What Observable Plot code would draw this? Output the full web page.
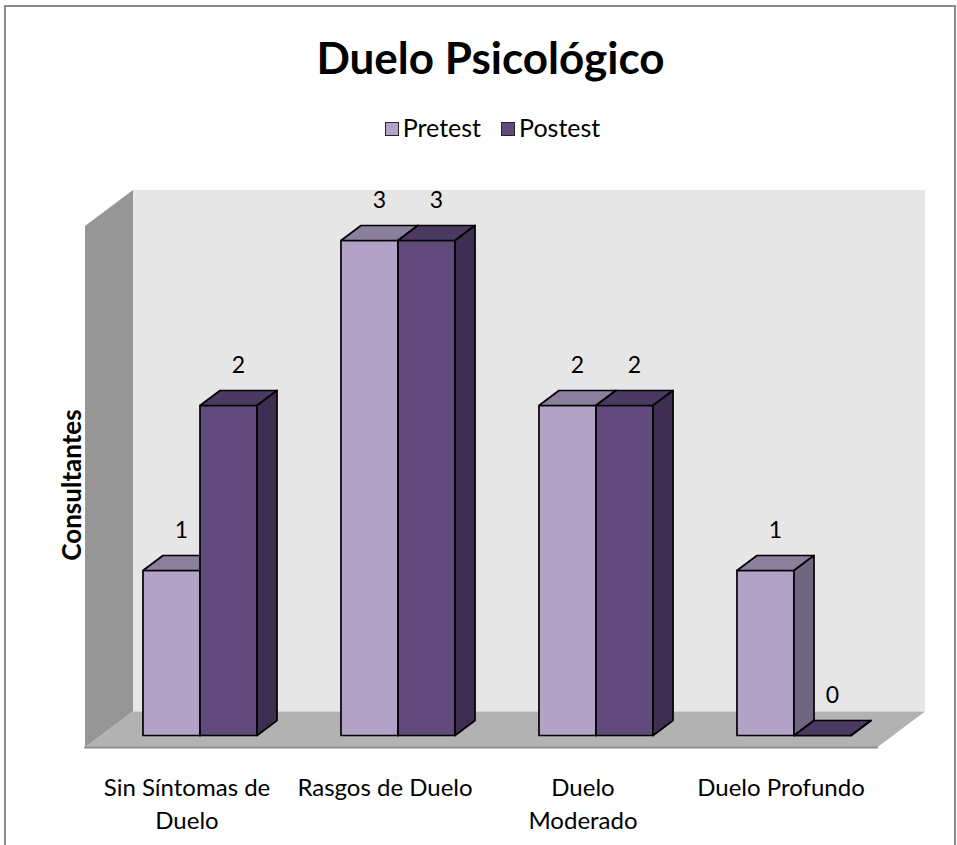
<!DOCTYPE html>
<html>
<head>
<meta charset="utf-8">
<script src="https://cdn.jsdelivr.net/npm/d3@7"></script>
<script src="https://cdn.jsdelivr.net/npm/@observablehq/plot@0.6"></script>
<style>
  html, body { margin: 0; padding: 0; background: #fff; }
  body { width: 957px; height: 845px; position: relative; overflow: hidden; font-family: Lato, "Open Sans", sans-serif; }
  #frame { position: absolute; left: 4px; top: 5px; width: 948px; height: 900px; border: 2px solid #8c8c8c; }
  #title { position: absolute; left: 0; top: 31px; width: 981px; text-align: center; font-weight: bold; font-size: 44px; line-height: 1.2; color: #000; }
  #legend { position: absolute; left: 0; top: 112px; width: 985px; display: flex; justify-content: center; align-items: center; font-size: 25px; line-height: 1.2; color: #000; }
  #legend .item { display: flex; align-items: center; margin: 0 10px; }
  #legend .sw { width: 12px; height: 12px; border: 1px solid #222; margin-right: 4px; margin-top: 3px; }
  #chart { position: absolute; left: 0; top: 160px; }
</style>
</head>
<body>
<div id="frame"></div>
<div id="title">Duelo Psicológico</div>
<div id="legend"></div>
<div id="chart"></div>
<script>
// ---- data ----
const categories = ["Sin Síntomas de Duelo", "Rasgos de Duelo", "Duelo Moderado", "Duelo Profundo"];
const tickLabels = ["Sin Síntomas de\nDuelo", "Rasgos de Duelo", "Duelo\nModerado", "Duelo Profundo"];
const series = ["Pretest", "Postest"];
const pretest = [1, 3, 2, 1];
const postest = [2, 3, 2, 0];
const yLabel = "Consultantes";
const wallTop = 3.16;

// ---- styling / geometry ----
const frontColor = {Pretest: "#b3a2c7", Postest: "#604a7b"};
const topColor = {Pretest: "#8b7f9e", Postest: "#4a3a61"};
const sideColor = {Pretest: "#706681", Postest: "#3e2f52"};
const DX = 48 / 198, DY = 36 / 165;      // full depth offset in data units
const dFront = 1 / 3, dBack = 0.75;      // bar depth positions
const barW = 0.288;
const P = (u, v, d) => ({x: u + d * DX, y: v + d * DY});

const values = {Pretest: pretest, Postest: postest};

// walls
const walls = [];
function addPoly(arr, id, fill, pts) { pts.forEach(p => arr.push({id, fill, x: p.x, y: p.y})); }
addPoly(walls, "back", "#e6e6e6", [P(0, 0, 1), P(4, 0, 1), P(4, wallTop, 1), P(0, wallTop, 1)]);
addPoly(walls, "left", "#969696", [P(0, 0, 0), P(0, 0, 1), P(0, wallTop, 1), P(0, wallTop, 0)]);
addPoly(walls, "floor", "#b2b2b2", [P(0, 0, 0), P(4, 0, 0), P(4, 0, 1), P(0, 0, 1)]);

// bars
const bars = [];
const labels = [];
categories.forEach((cat, i) => {
  const c = i + 0.5;
  series.forEach((s, j) => {
    const v = values[s][i];
    const x0 = j === 0 ? c - barW : c;
    const x1 = j === 0 ? c : c + barW;
    const id = cat + s;
    addPoly(bars, id + "front", frontColor[s], [P(x0, 0, dFront), P(x1, 0, dFront), P(x1, v, dFront), P(x0, v, dFront)]);
    addPoly(bars, id + "top", topColor[s], [P(x0, v, dFront), P(x1, v, dFront), P(x1, v, dBack), P(x0, v, dBack)]);
    addPoly(bars, id + "side", sideColor[s], [P(x1, 0, dFront), P(x1, v, dFront), P(x1, v, dBack), P(x1, 0, dBack)]);
    const q = P((x0 + x1) / 2, v, dFront);
    labels.push({x: q.x, y: q.y, text: String(v)});
  });
});

const ticks = tickLabels.map((t, i) => ({x: i + 0.5, y: 0, text: t}));

const plot = Plot.plot({
  width: 957,
  height: 685,
  marginLeft: 84.5,
  marginRight: 80.5,
  marginTop: 92,
  marginBottom: 98,
  x: {domain: [0, 4], axis: null},
  y: {domain: [0, 3], axis: null},
  color: {type: "identity"},
  style: {fontFamily: "Lato, 'Open Sans', sans-serif", background: "transparent", color: "#000"},
  marks: [
    Plot.line(walls, {x: "x", y: "y", z: "id", fill: "fill", stroke: "none", curve: "linear-closed"}),
    Plot.lineY([0, 0], {x: [0, 4], y: d => d, stroke: "#8c8c8c", strokeWidth: 2}),
    Plot.line(bars, {x: "x", y: "y", z: "id", fill: "fill", stroke: "#000", strokeWidth: 1.7, strokeLinejoin: "round", curve: "linear-closed"}),
    Plot.text(labels, {x: "x", y: "y", text: "text", dx: 10, dy: -40, fontSize: 23, fill: "#000"}),
    Plot.text(ticks, {x: "x", y: "y", text: "text", dx: 3, dy: 25, lineAnchor: "top", lineHeight: 1.38, fontSize: 24, fill: "#000"}),
    Plot.text([yLabel], {frameAnchor: "left", text: d => d, rotate: -90, textAnchor: "middle", dx: -12, dy: -15, fontSize: 26, fontWeight: "bold", fill: "#000"})
  ]
});
document.getElementById("chart").appendChild(plot);

// legend
const legend = document.getElementById("legend");
series.forEach(s => {
  const item = document.createElement("div");
  item.className = "item";
  const sw = document.createElement("span");
  sw.className = "sw";
  sw.style.background = frontColor[s];
  item.appendChild(sw);
  item.appendChild(document.createTextNode(s));
  legend.appendChild(item);
});
</script>
</body>
</html>
